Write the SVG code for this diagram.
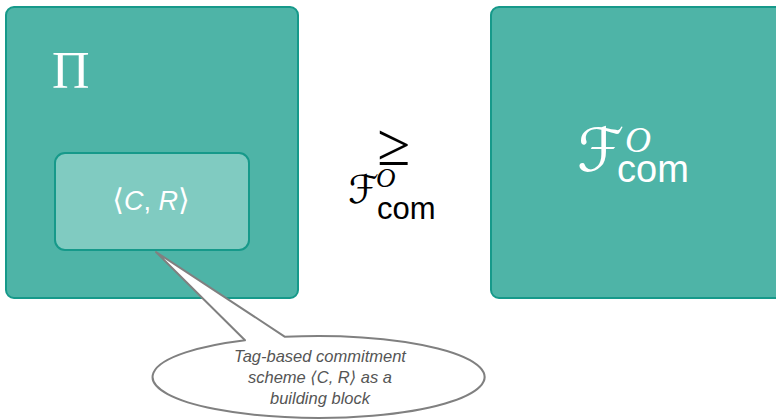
<svg xmlns="http://www.w3.org/2000/svg" width="776" height="420" viewBox="0 0 776 420">
  <style>
    .box { fill: #4eb4a7; stroke: #16998a; stroke-width: 2; }
    .inner { fill: #80cbc1; stroke: #16998a; stroke-width: 2; }
    .wt { fill: #ffffff; }
    .bk { fill: #000000; }
    .serif { font-family: "Liberation Serif", "DejaVu Serif", serif; }
    .sans { font-family: "Liberation Sans", "DejaVu Sans", sans-serif; }
    .script { font-family: "DejaVu Serif", "DejaVu Sans", serif; font-style: italic; }
    .sup { font-family: "Liberation Serif", "DejaVu Serif", serif; font-style: italic; }
    .ang { font-family: "DejaVu Sans", sans-serif; font-style: normal; }
    .note { fill: #555555; font-family: "Liberation Sans", "DejaVu Sans", sans-serif; font-style: italic; font-size: 16.5px; text-anchor: middle; }
    .bubble { fill: #ffffff; stroke: #808080; stroke-width: 2; stroke-linejoin: round; }
  </style>

  <!-- protocol Pi containing the commitment scheme -->
  <g id="protocol">
    <rect class="box" x="6" y="7" width="292" height="291" rx="8"/>
    <text class="wt serif" x="52" y="88" font-size="52">Π</text>
  </g>

  <g id="commitment">
    <rect class="inner" x="55" y="153" width="194" height="97" rx="10"/>
    <text class="wt sans" x="151" y="210" font-size="27" text-anchor="middle"><tspan class="ang" font-size="30">⟨</tspan><tspan font-style="italic">C</tspan>, <tspan font-style="italic">R</tspan><tspan class="ang" font-size="30">⟩</tspan></text>
  </g>

  <!-- ideal functionality -->
  <g id="ideal">
    <rect class="box" x="491" y="7" width="300" height="291" rx="8"/>
    <text class="wt script" x="577" y="171" font-size="60">ℱ</text>
    <text class="wt sup" x="625" y="152" font-size="36">O</text>
    <text class="wt sans" x="617" y="182" font-size="38">com</text>
  </g>

  <!-- relation between the two -->
  <g id="relation">
    <text class="bk serif" x="394" y="165" font-size="60" text-anchor="middle">≥</text>
    <text class="bk script" x="348" y="203" font-size="39">ℱ</text>
    <text class="bk sup" x="376" y="187" font-size="27">O</text>
    <text class="bk sans" x="377" y="219" font-size="31">com</text>
  </g>

  <!-- callout -->
  <g id="connectors">
    <path class="bubble" d="M 285 336.8 L 156 252 L 245 340.2 A 166 41 0 1 0 285 336.8 Z"/>
  </g>
  <g id="note">
    <text class="note" x="320" y="362">Tag-based commitment</text>
    <text class="note" x="320" y="383">scheme ⟨C, R⟩ as a</text>
    <text class="note" x="320" y="404">building block</text>
  </g>
</svg>
